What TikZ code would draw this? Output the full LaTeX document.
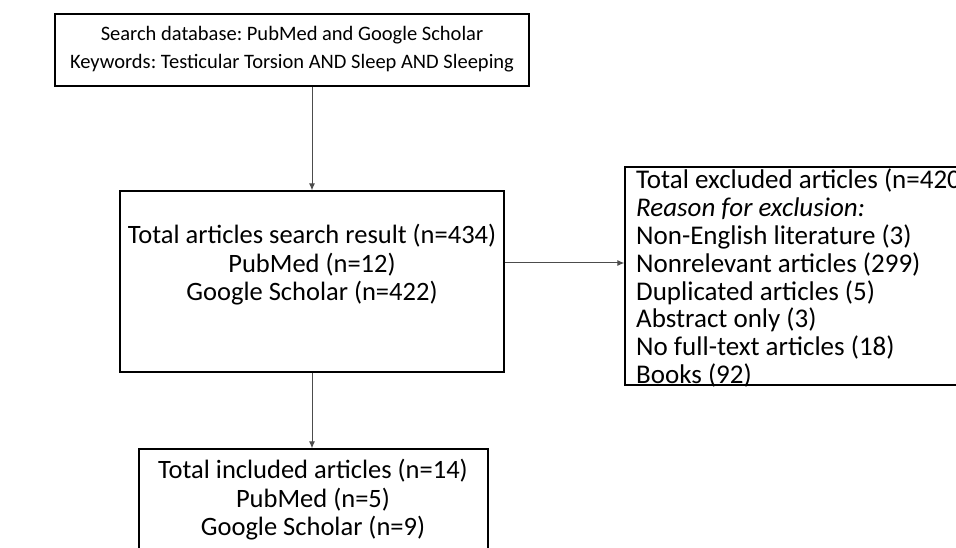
\documentclass[tikz,border=0pt]{standalone}
\usepackage{fontspec}
\setmainfont{Carlito}
\usetikzlibrary{arrows.meta}
\frenchspacing

\tikzset{
  flowbox/.style={draw=black,line width=1.2pt,inner sep=0pt},
  boxtext/.style={font=\fontsize{26.5}{28.5}\selectfont,inner sep=0pt},
  listtext/.style={font=\fontsize{27}{27.8}\selectfont,inner sep=0pt},
  smalltext/.style={font=\fontsize{20.5}{28}\selectfont,inner sep=0pt},
  flowarrow/.style={draw=black!70,line width=1pt,-{Latex[length=7pt,width=6pt]}}
}

\begin{document}
\begin{tikzpicture}[x=1pt,y=-1pt]
    \clip (0,0) rectangle (956,548);
    % search box
    \node[flowbox,minimum width=474pt,minimum height=72pt] (search) at (292,50) {};
    \node[smalltext,align=center] (searchtxt) at (292,49) {Search database: PubMed and Google Scholar\\Keywords: Testicular Torsion AND Sleep AND Sleeping};
    % result box
    \node[flowbox,minimum width=384pt,minimum height=181pt] (result) at (312,281.5) {};
    \node[boxtext,align=center] (resulttxt) at (312,265) {Total articles search result (n=434)\\PubMed (n=12)\\Google Scholar (n=422)};
    % excluded box, runs off the right edge
    \node[flowbox,minimum width=360pt,minimum height=218pt] (excluded) at (805,276) {};
    \node[listtext,align=left,anchor=north west] (excludedtxt) at (636,169) {Total excluded articles (n=420)\\\textit{Reason for exclusion:}\\Non-English literature (3)\\Nonrelevant articles (299)\\Duplicated articles (5)\\Abstract only (3)\\No full-text articles (18)\\Books (92)};
    % included box, runs off the bottom
    \node[flowbox,minimum width=349pt,minimum height=120pt] (included) at (313.5,509) {};
    \node[boxtext,align=center,anchor=north] (includedtxt) at (313,459) {Total included articles (n=14)\\PubMed (n=5)\\Google Scholar (n=9)};
    % arrows
    \draw[flowarrow] (search.south -| result.north) -- (result.north);
    \draw[flowarrow] (result.east |- 0,263) -- (excluded.west |- 0,263);
    \draw[flowarrow] (result.south) -- (included.north -| result.south);
\end{tikzpicture}
\end{document}
